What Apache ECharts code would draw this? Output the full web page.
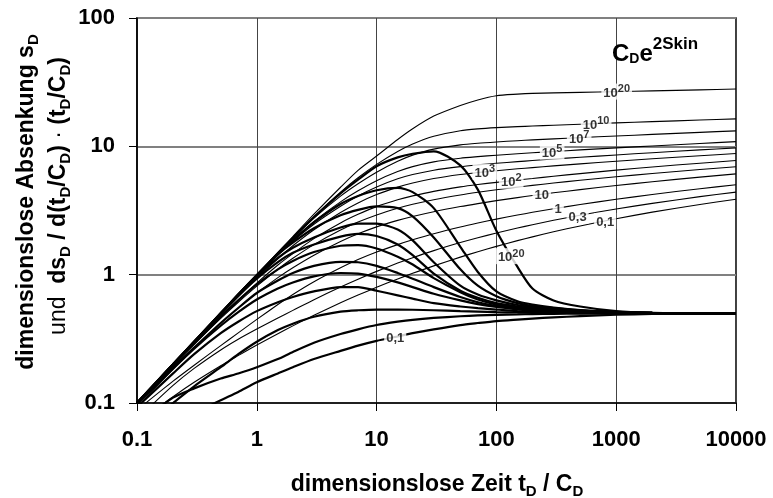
<!DOCTYPE html>
<html>
<head>
<meta charset="utf-8">
<script src="https://cdn.jsdelivr.net/npm/echarts@6/dist/echarts.min.js"></script>
<style>
  html, body { margin: 0; padding: 0; background: #ffffff; }
  #chart { width: 773px; height: 498px; }
</style>
</head>
<body>
<div id="chart"></div>
<script>
// Dimensionless time t_D / C_D shared by all type curves
const tD = [0.1, 0.2, 0.3, 0.5, 0.7, 1, 1.5, 2, 3, 5, 7, 10, 15, 20, 30, 50, 70, 100, 150, 200, 300, 500, 1000, 2000, 5000, 10000];

// Dimensionless drawdown s_D, one array per C_D e^2Skin
const sD_1e20 = [0.1, 0.2, 0.3, 0.5, 0.7, 1.0, 1.49, 1.98, 2.96, 4.8, 6.5, 8.4, 11.3, 13.7, 17.2, 20.8, 23.0, 24.8, 25.5, 25.85, 26.1, 26.35, 26.7, 27.05, 27.55, 28.0];
const sD_1e10 = [0.1, 0.2, 0.3, 0.5, 0.7, 0.99, 1.48, 1.95, 2.84, 4.4, 5.69, 7.23, 9.11, 10.43, 11.99, 13.24, 13.68, 13.98, 14.23, 14.39, 14.6, 14.87, 15.22, 15.57, 16.03, 16.37];
const sD_1e7  = [0.1, 0.2, 0.3, 0.5, 0.7, 0.99, 1.47, 1.93, 2.76, 4.09, 5.11, 6.29, 7.65, 8.54, 9.51, 10.27, 10.58, 10.82, 11.06, 11.22, 11.43, 11.69, 12.04, 12.39, 12.85, 13.2];
const sD_1e5  = [0.1, 0.2, 0.3, 0.5, 0.7, 0.98, 1.45, 1.87, 2.6, 3.69, 4.5, 5.4, 6.36, 6.95, 7.57, 8.08, 8.31, 8.53, 8.75, 8.91, 9.12, 9.38, 9.73, 10.07, 10.53, 10.88];
const sD_1e4  = [0.1, 0.2, 0.3, 0.5, 0.7, 0.98, 1.42, 1.82, 2.47, 3.41, 4.1, 4.82, 5.58, 6.03, 6.52, 6.95, 7.17, 7.38, 7.6, 7.75, 7.96, 8.22, 8.57, 8.92, 9.38, 9.72];
const sD_1e3  = [0.1, 0.2, 0.3, 0.49, 0.68, 0.94, 1.33, 1.68, 2.24, 3.05, 3.62, 4.21, 4.81, 5.18, 5.61, 6.03, 6.25, 6.46, 6.68, 6.83, 7.04, 7.3, 7.65, 8.0, 8.45, 8.8];
const sD_1e2  = [0.1, 0.2, 0.293, 0.47, 0.633, 0.86, 1.19, 1.46, 1.91, 2.53, 2.95, 3.39, 3.83, 4.11, 4.46, 4.83, 5.04, 5.24, 5.46, 5.61, 5.85, 6.13, 6.52, 6.9, 7.39, 7.75];
const sD_30   = [0.098, 0.196, 0.287, 0.457, 0.61, 0.815, 1.103, 1.341, 1.714, 2.225, 2.569, 2.922, 3.293, 3.533, 3.839, 4.181, 4.386, 4.591, 4.813, 4.966, 5.177, 5.438, 5.788, 6.135, 6.593, 6.94];
const sD_10   = [0.093, 0.184, 0.267, 0.418, 0.549, 0.719, 0.948, 1.132, 1.418, 1.811, 2.08, 2.357, 2.649, 2.842, 3.095, 3.393, 3.58, 3.773, 3.987, 4.136, 4.343, 4.601, 4.949, 5.296, 5.754, 6.1];
const sD_1    = [0.088, 0.148, 0.197, 0.28, 0.352, 0.448, 0.585, 0.70, 0.88, 1.13, 1.31, 1.5, 1.714, 1.868, 2.083, 2.351, 2.525, 2.708, 2.914, 3.06, 3.264, 3.521, 3.868, 4.215, 4.673, 5.02];
const sD_03   = [0.075, 0.137, 0.186, 0.259, 0.314, 0.377, 0.46, 0.527, 0.638, 0.801, 0.922, 1.061, 1.231, 1.357, 1.54, 1.778, 1.939, 2.111, 2.309, 2.451, 2.651, 2.904, 3.249, 3.596, 4.054, 4.40];
const sD_01   = [0.07, 0.112, 0.145, 0.195, 0.234, 0.283, 0.347, 0.399, 0.482, 0.603, 0.693, 0.797, 0.926, 1.024, 1.171, 1.37, 1.509, 1.662, 1.841, 1.971, 2.157, 2.397, 2.73, 3.07, 3.524, 3.87];

// Derivative ds_D / d(t_D/C_D) * (t_D/C_D), same order
const dsD_1e20 = [0.1, 0.2, 0.3, 0.5, 0.7, 0.99, 1.47, 1.93, 2.8, 4.3, 5.5, 7.0, 8.2, 8.75, 9.15, 7.1, 4.6, 2.2, 1.15, 0.78, 0.63, 0.565, 0.52, 0.505, 0.5, 0.5];
const dsD_1e10 = [0.1, 0.2, 0.3, 0.5, 0.7, 0.99, 1.45, 1.85, 2.55, 3.55, 4.1, 4.55, 4.75, 4.4, 3.3, 1.65, 1.05, 0.74, 0.62, 0.585, 0.555, 0.53, 0.512, 0.504, 0.5, 0.5];
const dsD_1e7  = [0.1, 0.2, 0.3, 0.5, 0.7, 0.99, 1.44, 1.78, 2.3, 2.9, 3.2, 3.4, 3.3, 2.85, 1.95, 1.1, 0.82, 0.68, 0.6, 0.57, 0.55, 0.527, 0.511, 0.504, 0.5, 0.5];
const dsD_1e5  = [0.1, 0.2, 0.3, 0.5, 0.7, 0.97, 1.35, 1.62, 1.95, 2.33, 2.5, 2.5, 2.25, 1.85, 1.25, 0.82, 0.7, 0.63, 0.58, 0.56, 0.543, 0.524, 0.51, 0.503, 0.5, 0.5];
const dsD_1e4  = [0.1, 0.2, 0.3, 0.49, 0.68, 0.93, 1.25, 1.48, 1.72, 1.98, 2.08, 2.0, 1.72, 1.42, 1.02, 0.75, 0.66, 0.6, 0.565, 0.55, 0.537, 0.521, 0.509, 0.503, 0.5, 0.5];
const dsD_1e3  = [0.1, 0.2, 0.29, 0.47, 0.63, 0.84, 1.1, 1.28, 1.5, 1.68, 1.7, 1.6, 1.38, 1.2, 0.94, 0.73, 0.64, 0.585, 0.552, 0.54, 0.53, 0.518, 0.508, 0.502, 0.5, 0.5];
const dsD_1e2  = [0.1, 0.19, 0.27, 0.42, 0.55, 0.72, 0.9, 1.03, 1.17, 1.26, 1.25, 1.17, 1.03, 0.93, 0.8, 0.67, 0.61, 0.57, 0.545, 0.535, 0.527, 0.518, 0.51, 0.505, 0.501, 0.5];
const dsD_30   = [0.098, 0.185, 0.265, 0.4, 0.51, 0.64, 0.78, 0.87, 0.97, 1.03, 1.02, 0.96, 0.87, 0.8, 0.71, 0.63, 0.59, 0.56, 0.537, 0.525, 0.515, 0.507, 0.502, 0.5, 0.5, 0.5];
const dsD_10   = [0.093, 0.17, 0.24, 0.35, 0.43, 0.52, 0.61, 0.67, 0.74, 0.8, 0.8, 0.75, 0.69, 0.65, 0.6, 0.565, 0.548, 0.535, 0.52, 0.513, 0.507, 0.503, 0.5, 0.5, 0.5, 0.5];
const dsD_1    = [0.06, 0.1, 0.135, 0.19, 0.24, 0.3, 0.37, 0.415, 0.47, 0.515, 0.528, 0.535, 0.535, 0.533, 0.528, 0.52, 0.515, 0.51, 0.507, 0.505, 0.503, 0.502, 0.5, 0.5, 0.5, 0.5];
const dsD_03   = [0.068, 0.11, 0.13, 0.155, 0.17, 0.19, 0.22, 0.25, 0.295, 0.345, 0.375, 0.405, 0.43, 0.445, 0.46, 0.474, 0.481, 0.486, 0.49, 0.493, 0.495, 0.497, 0.499, 0.5, 0.5, 0.5];
const dsD_01   = [0.05, 0.07, 0.083, 0.105, 0.122, 0.145, 0.17, 0.19, 0.22, 0.255, 0.28, 0.305, 0.33, 0.35, 0.375, 0.405, 0.42, 0.435, 0.447, 0.455, 0.465, 0.475, 0.487, 0.494, 0.498, 0.5];

const drawdownCurves = [sD_1e20, sD_1e10, sD_1e7, sD_1e5, sD_1e4, sD_1e3, sD_1e2, sD_30, sD_10, sD_1, sD_03, sD_01];
const derivativeCurves = [dsD_1e20, dsD_1e10, dsD_1e7, dsD_1e5, dsD_1e4, dsD_1e3, dsD_1e2, dsD_30, dsD_10, dsD_1, dsD_03, dsD_01];

// Axis tick labels
const xTickLabels = ['0.1', '1', '10', '100', '1000', '10000'];
const yTickLabels = ['0.1', '1', '10', '100'];

// Curve captions: which curve, at which t_D/C_D, and the caption text
const captionCurves = [sD_1e20, sD_1e10, sD_1e7, sD_1e5, sD_1e3, sD_1e2, sD_10, sD_1, sD_03, sD_01, dsD_1e20, dsD_01];
const captionTimes  = [1010, 680, 491, 292, 80, 133, 239, 328, 476, 809, 133, 14.3];
const captionTexts  = ['{n|10}{s|20}', '{n|10}{s|10}', '{n|10}{s|7}', '{n|10}{s|5}', '{n|10}{s|3}', '{n|10}{s|2}', '{n|10}', '{n|1}', '{n|0,3}', '{n|0,1}', '{n|10}{s|20}', '{n|0,1}'];

// log-log interpolation along a curve, used to seat a caption on it
function valueAt(arr, t) {
  for (let i = 0; i < tD.length - 1; i++) {
    if (t >= tD[i] && t <= tD[i + 1]) {
      const f = Math.log(t / tD[i]) / Math.log(tD[i + 1] / tD[i]);
      return Math.exp(Math.log(arr[i]) + f * Math.log(arr[i + 1] / arr[i]));
    }
  }
  return arr[arr.length - 1];
}

const toPairs = arr => tD.map((t, i) => [t, arr[i]]);

const series = [];
drawdownCurves.forEach(arr => series.push({
  type: 'line', data: toPairs(arr), showSymbol: false, symbol: 'none',
  smooth: 0.25, silent: true, z: 2,
  lineStyle: { color: '#000', width: 1.1 }
}));
derivativeCurves.forEach(arr => series.push({
  type: 'line', data: toPairs(arr), showSymbol: false, symbol: 'none',
  smooth: 0.25, silent: true, z: 3,
  lineStyle: { color: '#000', width: 2.2 }
}));
series.push({
  type: 'scatter', symbolSize: 0, silent: true, z: 10,
  data: captionCurves.map((arr, i) => [captionTimes[i], valueAt(arr, captionTimes[i]), captionTexts[i]]),
  label: {
    show: true, position: 'inside', formatter: p => p.data[2],
    backgroundColor: '#fff', padding: [0, 2, 0, 2],
    rich: {
      n: { fontFamily: 'Liberation Sans, Arial', fontWeight: 'bold', fontSize: 13, color: '#000', lineHeight: 16, verticalAlign: 'bottom' },
      s: { fontFamily: 'Liberation Sans, Arial', fontWeight: 'bold', fontSize: 11, color: '#000', lineHeight: 11, verticalAlign: 'top' }
    }
  }
});

const tickFont = { fontFamily: 'Liberation Sans, Arial', fontWeight: 'bold', fontSize: 22, color: '#000' };
const titleRich = {
  b:  { fontFamily: 'Liberation Sans, Arial', fontWeight: 'bold', fontSize: 23, color: '#000', lineHeight: 28, verticalAlign: 'middle' },
  r:  { fontFamily: 'Liberation Sans, Arial', fontWeight: 'normal', fontSize: 23, color: '#000', lineHeight: 28, verticalAlign: 'middle' },
  bs: { fontFamily: 'Liberation Sans, Arial', fontWeight: 'bold', fontSize: 15, color: '#000', lineHeight: 14, verticalAlign: 'bottom' }
};

const chart = echarts.init(document.getElementById('chart'), null, { renderer: 'canvas' });
chart.setOption({
  animation: false,
  backgroundColor: '#fff',
  grid: { left: 137, right: 37, top: 18, bottom: 95, show: true, borderColor: '#000', borderWidth: 1.5, backgroundColor: 'transparent' },
  xAxis: {
    type: 'log', logBase: 10, min: 0.1, max: 10000,
    axisLine: { show: true, lineStyle: { color: '#000', width: 1.5 } },
    axisTick: { show: true, length: 8, lineStyle: { color: '#000', width: 1 } },
    minorTick: { show: false },
    splitLine: { show: true, lineStyle: { color: '#444', width: 1 } },
    axisLabel: Object.assign({ margin: 26, formatter: v => xTickLabels[Math.round(Math.log10(v)) + 1] }, tickFont)
  },
  yAxis: {
    type: 'log', logBase: 10, min: 0.1, max: 100,
    axisLine: { show: true, lineStyle: { color: '#000', width: 1.5 } },
    axisTick: { show: true, length: 8, lineStyle: { color: '#000', width: 1 } },
    splitLine: { show: true, lineStyle: { color: '#808080', width: 2 } },
    axisLabel: Object.assign({ margin: 22, formatter: v => yTickLabels[Math.round(Math.log10(v)) + 1] }, tickFont)
  },
  graphic: [
    {
      type: 'text', x: 437, y: 485,
      style: { text: '{b|dimensionslose Zeit t}{bs|D}{b| / C}{bs|D}', rich: titleRich, align: 'center', verticalAlign: 'middle' }
    },
    {
      type: 'text', x: 27, y: 202, rotation: Math.PI / 2,
      style: { text: '{b|dimensionslose Absenkung s}{bs|D}', rich: titleRich, align: 'center', verticalAlign: 'middle' }
    },
    {
      type: 'text', x: 59, y: 196, rotation: Math.PI / 2,
      style: { text: '{r|und  }{b|ds}{bs|D}{b| / d(t}{bs|D}{b|/C}{bs|D}{b|)}{r| · }{b|(t}{bs|D}{b|/C}{bs|D}{b|)}', rich: titleRich, align: 'center', verticalAlign: 'middle' }
    },
    {
      type: 'text', x: 612, y: 36, z: 20,
      style: {
        text: '{c|C}{sub|D}{c|e}{sup|2Skin}',
        rich: {
          c:   { fontFamily: 'Liberation Sans, Arial', fontWeight: 'bold', fontSize: 24, color: '#000', lineHeight: 30, verticalAlign: 'bottom' },
          sub: { fontFamily: 'Liberation Sans, Arial', fontWeight: 'bold', fontSize: 14, color: '#000', lineHeight: 14, verticalAlign: 'bottom' },
          sup: { fontFamily: 'Liberation Sans, Arial', fontWeight: 'bold', fontSize: 17, color: '#000', lineHeight: 16, verticalAlign: 'top' }
        },
        align: 'left', verticalAlign: 'top'
      }
    }
  ],
  series: series
});
</script>
</body>
</html>
